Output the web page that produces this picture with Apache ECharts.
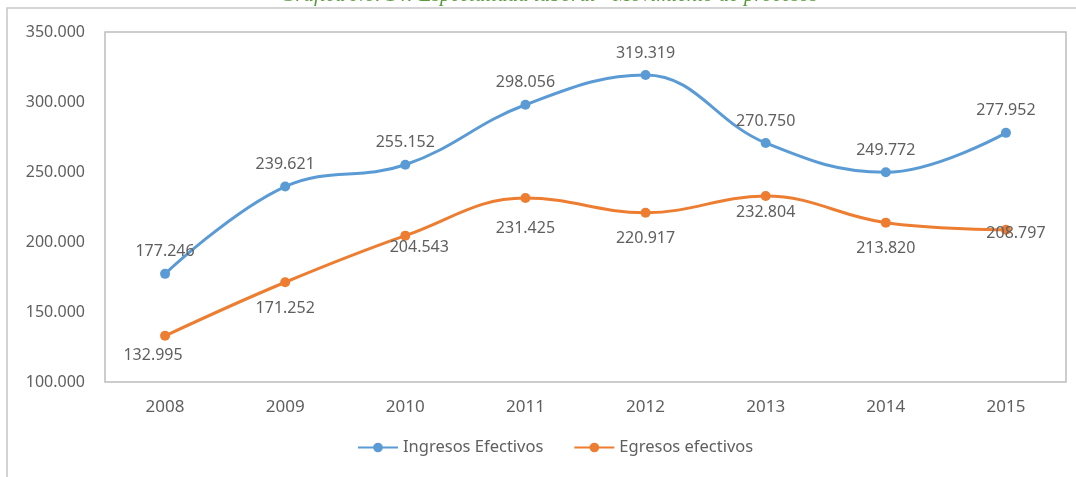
<!DOCTYPE html>
<html lang="es">
  <head>
    <meta charset="UTF-8" />
    <title>Movimiento de procesos</title>
    <style>
      html, body { margin: 0; padding: 0; background: #fff; }
      #chart { width: 1076px; height: 477px; }
    </style>
  </head>
  <body>
    <div id="chart"></div>

    <script src="https://cdn.jsdelivr.net/npm/echarts@6/dist/echarts.min.js"></script>
    <script>
      // datos
      const years = ['2008', '2009', '2010', '2011', '2012', '2013', '2014', '2015'];
      const ingresos = [177246, 239621, 255152, 298056, 319319, 270750, 249772, 277952];
      const egresos = [132995, 171252, 204543, 231425, 220917, 232804, 213820, 208797];
      const yTicks = [100000, 150000, 200000, 250000, 300000, 350000];

      // formato con punto de miles: 177246 -> 177.246
      function fmt(v) {
        return String(v).replace(/\B(?=(\d{3})+(?!\d))/g, '.');
      }

      // ajuste manual de etiquetas de egresos (como en el original)
      const egresosLabelShift = [[-12, 2], [0, 8], [14, -6], [0, 12], [0, 8], [0, -2], [0, 8], [10, -14]];

      const font = '"Noto Sans", "Open Sans", sans-serif';
      const gray = '#5f5f5f';

      const chart = echarts.init(document.getElementById('chart'));
      const option = {
        animation: false,
        textStyle: { fontFamily: font },
        graphic: [
          {
            type: 'rect',
            shape: { x: 7, y: 8, width: 1200, height: 600 },
            style: { fill: 'none', stroke: '#c6c6c6', lineWidth: 1.5 },
            silent: true
          },
          {
            type: 'text',
            x: 549,
            y: 6,
            style: {
              text: 'Gráfica No. 14: Especialidad laboral - Movimiento de procesos',
              font: 'italic 21px "Liberation Serif", serif',
              fill: '#5b9a3c',
              align: 'center',
              verticalAlign: 'bottom'
            },
            silent: true
          }
        ],
        grid: {
          left: 105,
          top: 32,
          width: 961,
          height: 350,
          show: true,
          borderColor: '#bdbdbd',
          borderWidth: 1.5,
          containLabel: false
        },
        legend: {
          bottom: 16,
          left: 352,
          itemWidth: 40,
          itemHeight: 12,
          itemGap: 30,
          textStyle: { color: gray, fontSize: 16.5, fontFamily: font },
          data: ['Ingresos Efectivos', 'Egresos efectivos']
        },
        xAxis: {
          type: 'category',
          data: years,
          boundaryGap: true,
          axisLine: { show: false },
          axisTick: { show: false },
          axisLabel: { color: gray, fontSize: 17, margin: 17 }
        },
        yAxis: {
          type: 'value',
          min: yTicks[0],
          max: yTicks[yTicks.length - 1],
          interval: 50000,
          splitLine: { show: false },
          axisLine: { show: false },
          axisTick: { show: false },
          axisLabel: { color: gray, fontSize: 16, margin: 20, formatter: fmt }
        },
        series: [
          {
            name: 'Ingresos Efectivos',
            type: 'line',
            data: ingresos,
            smooth: 0.4,
            symbol: 'circle',
            symbolSize: 10,
            itemStyle: { color: '#5b9bd5' },
            lineStyle: { width: 3, color: '#5b9bd5' },
            label: {
              show: true,
              position: 'top',
              distance: 9,
              color: gray,
              fontSize: 16,
              formatter: (p) => fmt(p.value)
            }
          },
          {
            name: 'Egresos efectivos',
            type: 'line',
            data: egresos.map((v, i) => ({
              value: v,
              label: { offset: egresosLabelShift[i] }
            })),
            smooth: 0.4,
            symbol: 'circle',
            symbolSize: 10,
            itemStyle: { color: '#ed7d31' },
            lineStyle: { width: 3, color: '#ed7d31' },
            label: {
              show: true,
              position: 'bottom',
              distance: 5,
              color: gray,
              fontSize: 16,
              formatter: (p) => fmt(p.value)
            }
          }
        ]
      };
      chart.setOption(option);
    </script>
  </body>
</html>
